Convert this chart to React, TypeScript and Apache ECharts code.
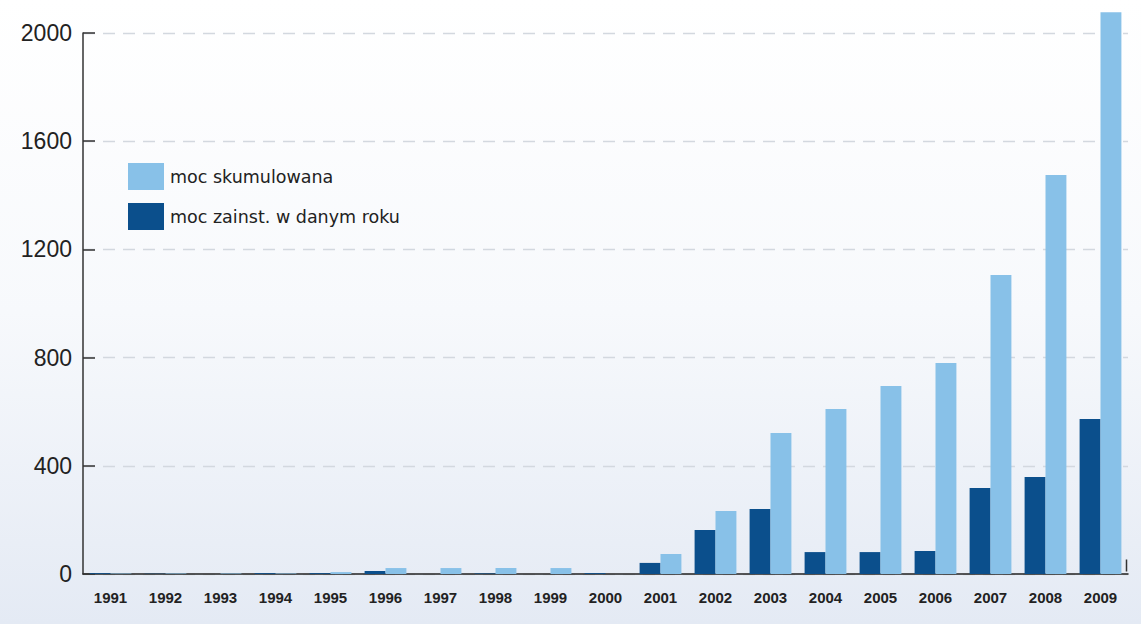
import React, { useEffect, useRef } from "react";
import * as echarts from "echarts";

const years = ["1991","1992","1993","1994","1995","1996","1997","1998","1999","2000","2001","2002","2003","2004","2005","2006","2007","2008","2009"];
const installedPerYear = [3, 1, 0, 3, 3, 11, 0, 2, 0, 3, 41, 163, 240, 81, 81, 85, 318, 359, 573];
const cumulative = [2, 2, 2, 2, 7, 22, 22, 22, 22, 0, 74, 233, 521, 610, 695, 780, 1105, 1475, 2077];
const yTicks = [0, 400, 800, 1200, 1600, 2000];
const seriesNames = ["moc zainst. w danym roku", "moc skumulowana"];
const colors = ["#0b4f8c", "#88c1e8"];

export default function App() {
  const ref = useRef<HTMLDivElement>(null);
  useEffect(() => {
    if (!ref.current) return;
    const chart = echarts.init(ref.current, null, { renderer: "svg" });
    const gridLeft = 83, gridRight = 13, gridTop = 33, gridBottom = 50;
    chart.setOption({
      animation: false,
      grid: { left: gridLeft, right: gridRight, top: gridTop, bottom: gridBottom, containLabel: false },
      legend: {
        data: [seriesNames[1], seriesNames[0]],
        orient: "vertical",
        left: 128,
        top: 163,
        padding: 0,
        itemWidth: 36,
        itemHeight: 27,
        itemGap: 13,
        icon: "rect",
        textStyle: { fontFamily: "DejaVu Sans", fontSize: 17.5, color: "#222", padding: [7, 0, 0, 1] },
        selectedMode: false,
      },
      xAxis: {
        type: "category",
        data: years,
        axisLine: { lineStyle: { color: "#222", width: 1.5 } },
        axisTick: { show: false },
        axisLabel: {
          fontFamily: "Liberation Sans Narrow, Liberation Sans, Arial",
          fontWeight: "bold",
          fontSize: 15,
          color: "#222",
          margin: 16,
          interval: 0,
        },
      },
      yAxis: {
        type: "value",
        min: 0,
        max: 2000,
        interval: 400,
        axisLine: { show: true, lineStyle: { color: "#333", width: 1.5 } },
        axisTick: { show: true, inside: true, length: 12, lineStyle: { color: "#333", width: 1.5 } },
        axisLabel: {
          fontFamily: "Liberation Sans, Arial",
          fontSize: 23,
          color: "#222",
          margin: 11,
          formatter: (v: number) => (yTicks.includes(v) ? String(v) : ""),
        },
        splitLine: { show: true, lineStyle: { color: "#d3d8df", type: [12, 8], width: 1.3 } },
      },
      series: [
        {
          name: seriesNames[0],
          type: "bar",
          data: installedPerYear,
          itemStyle: { color: colors[0] },
          barGap: "0%",
          barCategoryGap: "24%",
          clip: false,
        },
        {
          name: seriesNames[1],
          type: "bar",
          data: cumulative,
          itemStyle: { color: colors[1] },
          barGap: "0%",
          barCategoryGap: "24%",
          clip: false,
        },
      ],
      graphic: [
        {
          type: "line",
          right: gridRight - 1,
          bottom: gridBottom,
          shape: { x1: 0, y1: 0, x2: 0, y2: 12 },
          style: { stroke: "#333", lineWidth: 1.5 },
        },
      ],
    });
    return () => chart.dispose();
  }, []);
  return (
    <div
      style={{
        position: "absolute",
        left: 0,
        top: 0,
        width: 1141,
        height: 624,
        background: "linear-gradient(to bottom, #ffffff 0%, #f7f9fc 50%, #e4eaf4 100%)",
      }}
    >
      <div ref={ref} style={{ width: 1141, height: 624 }} />
    </div>
  );
}
